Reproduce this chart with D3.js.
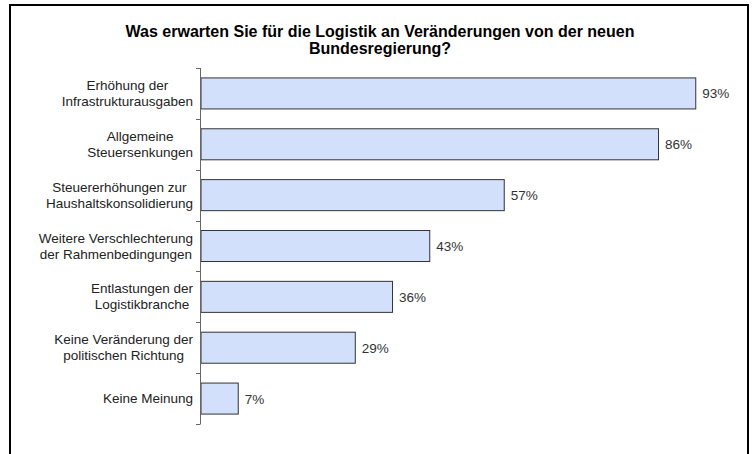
<!DOCTYPE html>
<html><head><meta charset="utf-8">
<script src="https://cdn.jsdelivr.net/npm/d3@7/dist/d3.min.js"></script>
<style>body{margin:0;background:#fff}svg{display:block}</style>
</head><body>
<script>
const categories = [
  ["Erhöhung der", "Infrastrukturausgaben"],
  ["Allgemeine", "Steuersenkungen"],
  ["Steuererhöhungen zur", "Haushaltskonsolidierung"],
  ["Weitere Verschlechterung", "der Rahmenbedingungen"],
  ["Entlastungen der", "Logistikbranche"],
  ["Keine Veränderung der", "politischen Richtung"],
  ["Keine Meinung"]
];
const values = [93, 86, 57, 43, 36, 29, 7];
const titleLines = ["Was erwarten Sie für die Logistik an Veränderungen von der neuen", "Bundesregierung?"];

const W = 754, H = 454;
const svg = d3.select("body").append("svg").attr("width", W).attr("height", H);
svg.append("rect").attr("width", W).attr("height", H).attr("fill", "#fff");
svg.append("rect").attr("x", 10).attr("y", 5).attr("width", 738).attr("height", 470)
  .attr("fill", "none").attr("stroke", "#000").attr("stroke-width", 2);

const font = "Liberation Sans, Arial, sans-serif";
svg.append("g").selectAll("text").data(titleLines).join("text")
  .attr("x", 380).attr("y", (d, i) => 37 + i * 17)
  .attr("text-anchor", "middle").attr("font-family", font)
  .attr("font-size", 16).attr("font-weight", "bold").attr("fill", "#000")
  .text(d => d);

const idx = d3.range(categories.length);
const x0 = 201;
const x = d3.scaleLinear().domain([0, 100]).range([x0, x0 + 532]);
const y = d3.scaleBand().domain(idx).range([68, 424]).paddingInner(0.39).paddingOuter(0.195);

// bars
svg.append("g").selectAll("rect").data(idx).join("rect")
  .attr("x", x(0)).attr("y", i => y(i))
  .attr("width", i => x(values[i]) - x(0)).attr("height", y.bandwidth())
  .attr("fill", "#d3e0fb").attr("stroke", "#333").attr("stroke-width", 1);

// value labels
svg.append("g").selectAll("text").data(idx).join("text")
  .attr("x", i => x(values[i]) + 6.5).attr("y", i => y(i) + y.bandwidth() / 2 + 5)
  .attr("font-family", font).attr("font-size", 13.5).attr("fill", "#333")
  .text(i => values[i] + "%");

// axis line and ticks at category boundaries
const axisG = svg.append("g");
axisG.append("line").attr("x1", 200.5).attr("x2", 200.5).attr("y1", 68).attr("y2", 424)
  .attr("stroke", "#666").attr("stroke-width", 1);
const boundaries = d3.range(categories.length + 1).map(k => 68 + k * (356 / categories.length));
axisG.selectAll("line.t").data(boundaries).join("line").attr("class", "t")
  .attr("x1", 196).attr("x2", 200.5).attr("y1", d => Math.round(d) + 0.5).attr("y2", d => Math.round(d) + 0.5)
  .attr("stroke", "#666").attr("stroke-width", 1);

// category labels: centered lines, block right-aligned
const labG = svg.append("g");
idx.forEach(i => {
  const lines = categories[i];
  const cy = y(i) + y.bandwidth() / 2;
  const t = labG.append("text").attr("font-family", font).attr("font-size", 13.5)
    .attr("fill", "#222").attr("text-anchor", "middle");
  const n = lines.length;
  const spans = lines.map((ln, k) => t.append("tspan")
    .attr("y", cy + 4.5 + (k - (n - 1) / 2) * 16).text(ln));
  const maxW = d3.max(spans, s => s.node().getComputedTextLength());
  const cx = 193 - maxW / 2;
  spans.forEach(s => s.attr("x", cx));
});
</script>
</body></html>
